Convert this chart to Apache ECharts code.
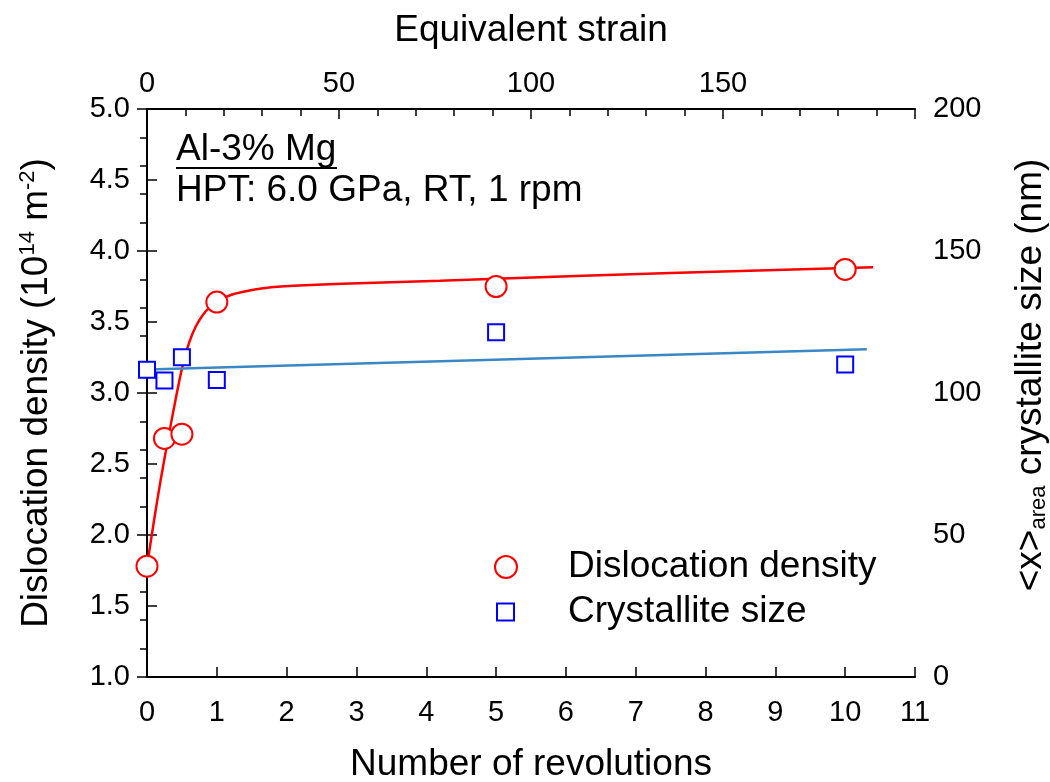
<!DOCTYPE html>
<html lang="en">
<head>
    <meta charset="UTF-8">
    <title>Al-3% Mg HPT</title>
    <script src="https://cdn.jsdelivr.net/npm/echarts@6/dist/echarts.min.js"></script>
    <style>
        body { margin: 0; background: #fff; }
        #main { width: 1050px; height: 782px; }
    </style>
</head>
<body>
<div id="main"></div>
<script>
    // measured points
    var revDD = [0, 0.25, 0.5, 1, 5, 10];
    var dislocation = [1.78, 2.68, 2.71, 3.64, 3.75, 3.87];
    var revCS = [0, 0.25, 0.5, 1, 5, 10];
    var crystallite = [108.2, 104.4, 112.6, 104.6, 121.4, 110.0];

    // fitted curves
    var fitRevDD = [0, 0.1, 0.2, 0.3, 0.4, 0.5, 0.6, 0.7, 0.8, 0.9, 1.0, 1.2, 1.4, 1.7, 2.1, 2.8, 4.2, 5, 7.5, 10.4];
    var fitDD = [1.78, 2.10, 2.40, 2.67, 2.93, 3.17, 3.35, 3.47, 3.55, 3.605, 3.64, 3.69, 3.715, 3.74, 3.755, 3.77, 3.79, 3.805, 3.845, 3.885];
    var fitRevCS = [0, 10.31];
    var fitCS = [108.3, 115.4];

    var FONT = 'Liberation Sans';
    var BIG = 37;

    function pairs(xs, ys) {
        var out = [];
        for (var i = 0; i < xs.length; i++) out.push([xs[i], ys[i]]);
        return out;
    }

    var myChart = echarts.init(document.getElementById('main'));

    var axisLine = {show: true, lineStyle: {color: '#000', width: 2}};
    var tickStyle = {color: '#000', width: 1.5};

    var option = {
        animation: false,
        backgroundColor: '#fff',
        textStyle: {fontFamily: FONT, color: '#000'},
        grid: {left: 147, right: 135, top: 109, bottom: 105, containLabel: false, outerBoundsMode: 'none'},
        xAxis: [
            {
                type: 'value', position: 'bottom', min: 0, max: 11, interval: 1,
                name: 'Number of revolutions', nameLocation: 'middle', nameGap: 69,
                nameTextStyle: {fontSize: BIG, fontFamily: FONT, color: '#000'},
                axisLine: axisLine,
                axisTick: {inside: true, length: 10, lineStyle: tickStyle},
                minorTick: {show: false},
                axisLabel: {fontSize: 29, margin: 21, color: '#000', fontFamily: FONT},
                splitLine: {show: false}
            },
            {
                type: 'value', position: 'top', min: 0, max: 200, interval: 50,
                name: 'Equivalent strain', nameLocation: 'middle', nameGap: 60,
                nameTextStyle: {fontSize: BIG, fontFamily: FONT, color: '#000'},
                axisLine: axisLine,
                axisTick: {inside: true, length: 10, lineStyle: tickStyle},
                minorTick: {show: true, splitNumber: 5, length: 7, lineStyle: tickStyle},
                axisLabel: {
                    fontSize: 29, margin: 11, color: '#000', fontFamily: FONT,
                    formatter: function (v) { return v === 200 ? '' : v; }
                },
                splitLine: {show: false}
            }
        ],
        yAxis: [
            {
                type: 'value', position: 'left', min: 1, max: 5, interval: 0.5,
                name: '{m|Dislocation density (10}{s|14}{m| m}{s|-2}{m|)}',
                nameLocation: 'middle', nameGap: 92, nameRotate: 90,
                nameTextStyle: {
                    fontFamily: FONT, color: '#000',
                    rich: {
                        m: {fontSize: BIG, lineHeight: 38, verticalAlign: 'bottom', fontFamily: FONT},
                        s: {fontSize: 22, lineHeight: 22, verticalAlign: 'top', padding: [0, 0, 20, 0], fontFamily: FONT}
                    }
                },
                axisLine: axisLine,
                axisTick: {inside: true, length: 10, lineStyle: tickStyle},
                minorTick: {show: false},
                axisLabel: {
                    fontSize: 29, margin: 17, color: '#000', fontFamily: FONT,
                    formatter: function (v) { return v.toFixed(1); }
                },
                splitLine: {show: false}
            },
            {
                type: 'value', position: 'right', min: 0, max: 200, interval: 50,
                name: '{m|<x>}{b|area}{m| crystallite size (nm)}',
                nameLocation: 'middle', nameGap: 97, nameRotate: 90,
                nameTextStyle: {
                    fontFamily: FONT, color: '#000', padding: [0, 0, 0, 36],
                    rich: {
                        m: {fontSize: BIG, lineHeight: 38, verticalAlign: 'top', fontFamily: FONT},
                        b: {fontSize: 22, lineHeight: 22, verticalAlign: 'bottom', padding: [20, 0, 0, 0], fontFamily: FONT}
                    }
                },
                axisLine: axisLine,
                axisTick: {inside: true, length: 10, lineStyle: tickStyle},
                minorTick: {show: true, splitNumber: 5, length: 7, lineStyle: tickStyle},
                axisLabel: {fontSize: 29, margin: 18, color: '#000', fontFamily: FONT},
                splitLine: {show: false}
            }
        ],
        legend: [
            {
                data: ['Dislocation density'], orient: 'vertical', left: 494, top: 547, padding: 0,
                itemWidth: 22, itemHeight: 22, selectedMode: false,
                formatter: function (name) { return '{g| }{t|' + name + '}'; },
                textStyle: {
                    fontSize: BIG, lineHeight: 40, color: '#000', fontFamily: FONT,
                    rich: {g: {width: 46}, t: {fontSize: BIG, fontFamily: FONT, color: '#000'}}
                }
            },
            {
                data: ['Crystallite size'], orient: 'vertical', left: 496, top: 592, padding: 0,
                itemWidth: 17, itemHeight: 17, selectedMode: false,
                formatter: function (name) { return '{g| }{t|' + name + '}'; },
                textStyle: {
                    fontSize: BIG, lineHeight: 40, color: '#000', fontFamily: FONT,
                    rich: {g: {width: 49}, t: {fontSize: BIG, fontFamily: FONT, color: '#000'}}
                }
            }
        ],
        graphic: [
            {
                type: 'text', left: 176, top: 131,
                style: {text: 'Al-3% Mg', font: BIG + 'px "Liberation Sans"', fill: '#000'}
            },
            {
                type: 'line', shape: {x1: 176, y1: 168, x2: 337, y2: 168},
                style: {stroke: '#000', lineWidth: 2}
            },
            {
                type: 'text', left: 176, top: 172,
                style: {text: 'HPT: 6.0 GPa, RT, 1 rpm', font: BIG + 'px "Liberation Sans"', fill: '#000'}
            }
        ],
        series: [
            {
                name: 'fitDD', type: 'line', xAxisIndex: 0, yAxisIndex: 0,
                data: pairs(fitRevDD, fitDD), showSymbol: false, smooth: 0.3,
                lineStyle: {color: '#ff0000', width: 2.5}, z: 2, silent: true
            },
            {
                name: 'fitCS', type: 'line', xAxisIndex: 0, yAxisIndex: 1,
                data: pairs(fitRevCS, fitCS), showSymbol: false,
                lineStyle: {color: '#3a87c6', width: 2.5}, z: 2, silent: true
            },
            {
                name: 'Dislocation density', type: 'scatter', xAxisIndex: 0, yAxisIndex: 0,
                data: pairs(revDD, dislocation), symbol: 'circle', symbolSize: 21,
                itemStyle: {color: '#fff', borderColor: '#ff0000', borderWidth: 2, opacity: 1}, z: 4
            },
            {
                name: 'Crystallite size', type: 'scatter', xAxisIndex: 0, yAxisIndex: 1,
                data: pairs(revCS, crystallite), symbol: 'rect', symbolSize: 16,
                itemStyle: {color: '#fff', borderColor: '#0000ff', borderWidth: 2, opacity: 1}, z: 4
            }
        ]
    };

    myChart.setOption(option);
</script>
</body>
</html>
